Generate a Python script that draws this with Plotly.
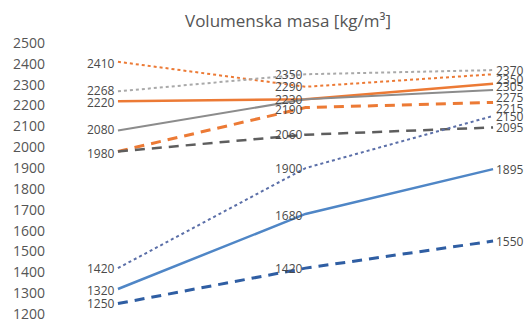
import plotly.graph_objects as go

# Three measurement stages (no x-axis labels are drawn)
stages = ["I", "II", "III"]

# Bulk density series, kg/m3
orange_dot = [2410, 2290, 2350]
gray_dot = [2268, 2350, 2370]
orange_solid = [2220, 2230, 2305]
gray_solid = [2080, 2230, 2275]
orange_dash = [1980, 2190, 2215]
gray_dash = [1980, 2060, 2095]
blue_dot = [1420, 1900, 2150]
blue_solid = [1320, 1680, 1895]
blue_dash = [1250, 1420, 1550]

y_ticks = [1200, 1300, 1400, 1500, 1600, 1700, 1800, 1900,
           2000, 2100, 2200, 2300, 2400, 2500]

ORANGE = "#EC7A35"
series = [
    # values, colour, dash, width, label y-shift per stage (None = no label)
    (orange_dot, ORANGE, "dot", 2, [-2, 0, -5]),
    (gray_dot, "#A9A9A9", "dot", 2, [1, 0, 0]),
    (orange_solid, ORANGE, "solid", 2.5, [-1, 0, -3]),
    (gray_solid, "#8C8C8C", "solid", 2, [1, None, -8]),
    (orange_dash, ORANGE, "10px,7px", 3, [-2, -2, -6]),
    (gray_dash, "#5E5E5E", "10px,7px", 2.5, [None, 0, 0]),
    (blue_dot, "#5B6FA8", "dot", 2, [0, 0, -1]),
    (blue_solid, "#4F86C6", "solid", 2.5, [-2, -2, 0]),
    (blue_dash, "#2F5EA3", "10px,7px", 3, [0, 0, 0]),
]

fig = go.Figure()
annotations = []
for values, color, dash, width, shifts in series:
    fig.add_trace(go.Scatter(
        x=stages, y=values, mode="lines",
        line=dict(color=color, dash=dash, width=width),
        showlegend=False, hoverinfo="skip",
    ))
    for i, (stage, v, s) in enumerate(zip(stages, values, shifts)):
        if s is None:
            continue
        last = i == len(stages) - 1
        annotations.append(dict(
            x=stage, y=v, text=str(v), showarrow=False,
            xanchor="left" if last else "right",
            xshift=1 if last else -1, yshift=s,
            font=dict(family="Open Sans", size=12, color="#4A4A4A"),
        ))

# chart title, centred 20 px below the top edge
annotations.append(dict(
    text="Volumenska masa [kg/m³]", x=0.5, xref="paper",
    y=1 + (43 - 20) / 280, yref="paper", yanchor="middle", showarrow=False,
    font=dict(family="Open Sans", size=17, color="#555555"),
))

fig.update_layout(
    width=525, height=333,
    margin=dict(l=60, r=10, t=43, b=10),
    paper_bgcolor="white", plot_bgcolor="white",
    annotations=annotations,
    xaxis=dict(range=[-0.309, 2.117], showgrid=False, zeroline=False,
               showline=False, showticklabels=False, ticks=""),
    yaxis=dict(range=[1200, 2500], tickvals=y_ticks, showgrid=False,
               zeroline=False, showline=False, ticks="",
               ticklabelstandoff=14,
               tickfont=dict(family="Open Sans", size=14, color="#555555")),
)

fig.write_html("out.html")
